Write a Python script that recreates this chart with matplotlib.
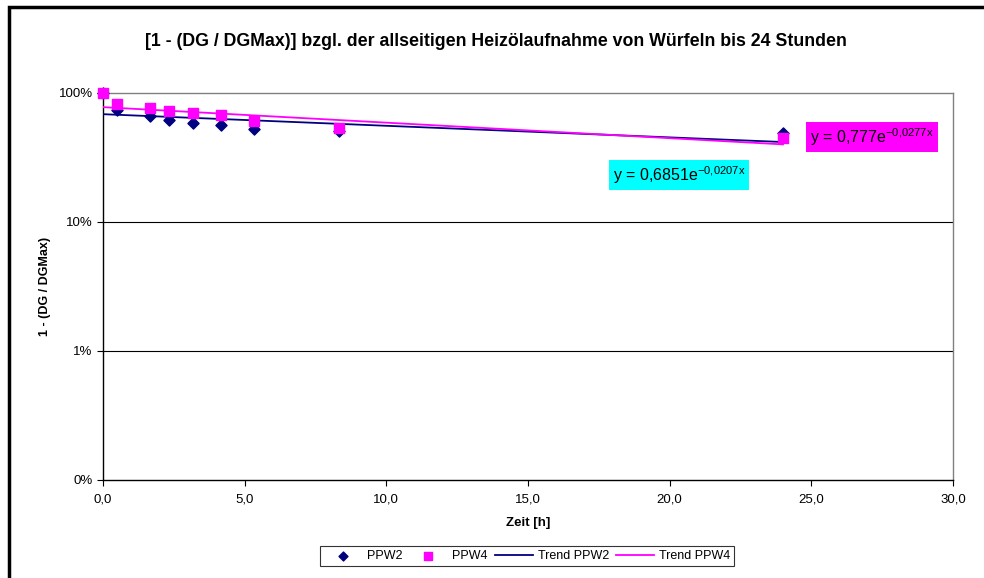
import numpy as np
import matplotlib
matplotlib.use("Agg")
import matplotlib.pyplot as plt
from matplotlib.patches import Rectangle
from matplotlib.ticker import FixedLocator, FixedFormatter, NullLocator

plt.rcParams['font.family'] = ['Liberation Sans', 'DejaVu Sans']
plt.rcParams['axes.unicode_minus'] = False

# Data
time_h = [0.0, 0.5, 1.67, 2.33, 3.17, 4.17, 5.33, 8.33, 24.0]
ppw2 = [1.00, 0.74, 0.66, 0.62, 0.59, 0.56, 0.53, 0.51, 0.49]
ppw4 = [1.00, 0.82, 0.76, 0.72, 0.70, 0.67, 0.61, 0.54, 0.45]
trend2_a, trend2_b = 0.6851, -0.0207
trend4_a, trend4_b = 0.777, -0.0277
x_ticks = [0, 5, 10, 15, 20, 25, 30]
x_tick_labels = ["0,0", "5,0", "10,0", "15,0", "20,0", "25,0", "30,0"]
y_ticks = [0.001, 0.01, 0.1, 1.0]
y_tick_labels = ["0%", "1%", "10%", "100%"]

navy = '#000080'
magenta = '#FF00FF'

fig = plt.figure(figsize=(9.84, 5.78), dpi=100)
# outer border
fig.patches.append(Rectangle((9/984, -0.05), 1.1, (578-7)/578 + 0.05, transform=fig.transFigure,
                             fill=False, edgecolor='black', linewidth=2.5, zorder=0))

ax = fig.add_axes([103/984, (578-480)/578, 850/984, 387/578])
ax.set_yscale('log')
ax.set_xlim(0, 30)
ax.set_ylim(0.001, 1.0)

xs = np.linspace(0, 24, 200)
ax.plot(xs, trend2_a*np.exp(trend2_b*xs), color=navy, lw=1.3, label='Trend PPW2', zorder=3)
ax.plot(xs, trend4_a*np.exp(trend4_b*xs), color=magenta, lw=1.3, label='Trend PPW4', zorder=3)
ax.scatter(time_h, ppw2, marker='D', s=32, color=navy, label='PPW2', zorder=4, clip_on=False)
ax.scatter(time_h, ppw4, marker='s', s=48, color=magenta, label='PPW4', zorder=5, clip_on=False)

ax.yaxis.set_major_locator(FixedLocator(y_ticks))
ax.yaxis.set_major_formatter(FixedFormatter(y_tick_labels))
ax.yaxis.set_minor_locator(NullLocator())
ax.set_xticks(x_ticks)
ax.set_xticklabels(x_tick_labels)
ax.tick_params(axis='both', labelsize=9.5, direction='out', length=4, color='black')
ax.tick_params(axis='x', pad=6)

for yv in [0.01, 0.1]:
    ax.axhline(yv, color='black', lw=0.8, zorder=1)

ax.spines['left'].set_color('black')
ax.spines['bottom'].set_color('black')
ax.spines['top'].set_color('#808080')
ax.spines['right'].set_color('#808080')
for s in ax.spines.values():
    s.set_linewidth(1.0)

ax.set_xlabel('Zeit [h]', fontsize=9.5, fontweight='bold', labelpad=8)
ax.set_ylabel('1 - (DG / DGMax)', fontsize=9, fontweight='bold')
ax.yaxis.set_label_coords((51 - 103)/850, 0.5)

fig.text(0.5 + 0.004, 1 - 42/578, '[1 - (DG / DGMax)] bzgl. der allseitigen Heizölaufnahme von Würfeln bis 24 Stunden',
         ha='center', va='center', fontsize=12.8, fontweight='bold')

ax.text(613/984, 1 - 175/578, r'y = 0,6851e$^{\mathregular{-0{,}0207x}}$', transform=fig.transFigure,
        fontsize=11.5, va='center', ha='left',
        bbox=dict(boxstyle='square,pad=0.25', facecolor='#00FFFF', edgecolor='none'))
ax.text(810/984, 1 - 137/578, r'y = 0,777e$^{\mathregular{-0{,}0277x}}$', transform=fig.transFigure,
        fontsize=11.5, va='center', ha='left',
        bbox=dict(boxstyle='square,pad=0.25', facecolor=magenta, edgecolor='none'))

handles, labels = ax.get_legend_handles_labels()
order = [2, 3, 0, 1]
leg = fig.legend([handles[i] for i in order], [labels[i] for i in order],
                 loc='center', bbox_to_anchor=(527/984, 1 - 556/578), ncol=4, fontsize=9,
                 frameon=True, fancybox=False, edgecolor='black', handlelength=3,
                 columnspacing=0.6, handletextpad=0.4, borderpad=0.3, markerscale=0.8)
leg.get_frame().set_linewidth(0.8)

fig.savefig('out.png', dpi=100)
